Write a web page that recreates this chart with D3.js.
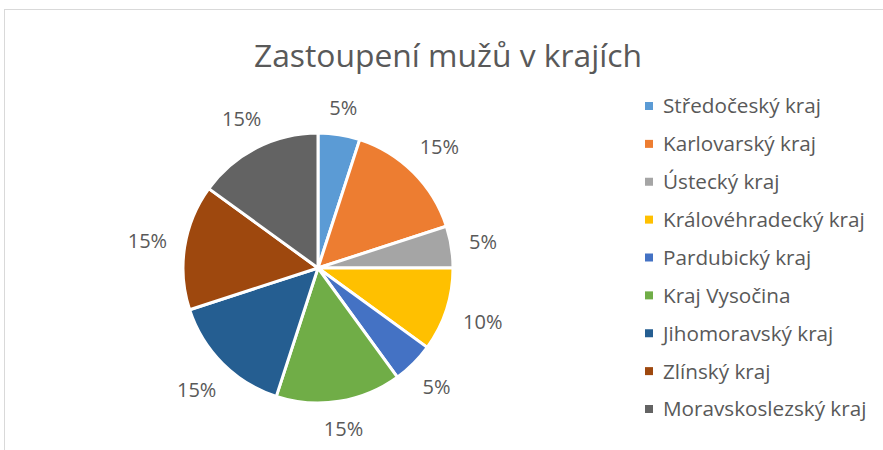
<!DOCTYPE html>
<html lang="cs">
<head>
  <meta charset="UTF-8">
  <title>Zastoupení mužů v krajích</title>
  <script src="https://d3js.org/d3.v7.min.js"></script>
  <style>
    body {
      margin: 0;
      background: #fff;
      font-family: 'Open Sans', sans-serif;
    }
    svg { display: block; }
    .title { font-size: 31.8px; fill: #595959; }
    .legend-text { font-size: 20.7px; fill: #595959; }
    .pct { font-size: 20px; fill: #595959; }
  </style>
</head>
<body>
  <svg width="883" height="450"></svg>
  <script>
    const regions = ["Středočeský kraj", "Karlovarský kraj", "Ústecký kraj", "Královéhradecký kraj",
                     "Pardubický kraj", "Kraj Vysočina", "Jihomoravský kraj", "Zlínský kraj",
                     "Moravskoslezský kraj"];
    const shares = [5, 15, 5, 10, 5, 15, 15, 15, 15];
    const colors = ["#5B9BD5", "#ED7D31", "#A5A5A5", "#FFC000", "#4472C4",
                    "#70AD47", "#255E91", "#9E480E", "#636363"];

    const svg = d3.select("svg");

    // chart area frame (only top and left edges visible in the crop)
    svg.append("rect")
      .attr("x", 4.5).attr("y", 9.5)
      .attr("width", 900).attr("height", 460)
      .attr("fill", "#fff")
      .attr("stroke", "#d9d9d9");

    svg.append("text")
      .attr("class", "title")
      .attr("x", 448).attr("y", 67)
      .attr("text-anchor", "middle")
      .text("Zastoupení mužů v krajích");

    const cx = 318, cy = 268, radius = 135;
    const g = svg.append("g").attr("transform", `translate(${cx},${cy})`);

    const total = d3.sum(shares);
    const pie = d3.pie().sort(null).value(d => d.value);
    const arc = d3.arc().innerRadius(0).outerRadius(radius);
    const color = d3.scaleOrdinal().domain(regions).range(colors);

    const data = regions.map((r, i) => ({name: r, value: shares[i]}));
    const arcs = pie(data);

    g.selectAll("path.slice")
      .data(arcs)
      .enter().append("path")
        .attr("class", "slice")
        .attr("d", arc)
        .attr("fill", d => color(d.data.name))
        .attr("stroke", "#fff")
        .attr("stroke-width", 3)
        .attr("stroke-linejoin", "round");

    // outside-end labels: box sits just beyond the rim along the mid angle
    const fmt = d3.format(".0%");
    g.selectAll("text.pct")
      .data(arcs)
      .enter().append("text")
        .attr("class", "pct")
        .attr("text-anchor", "middle")
        .attr("dominant-baseline", "central")
        .text(d => fmt(d.data.value / total))
        .each(function(d) {
          const a = (d.startAngle + d.endAngle) / 2;
          const w = this.getComputedTextLength();
          const h = 16;
          const s = Math.sin(a), c = Math.cos(a);
          const dist = radius + 17 + Math.abs(s) * w / 2 + Math.abs(c) * h / 2;
          d3.select(this)
            .attr("x", s * dist)
            .attr("y", -c * dist);
        });

    // legend
    const legendY = d3.scalePoint().domain(regions).range([106, 409]);
    const legend = svg.append("g");
    const item = legend.selectAll("g")
      .data(regions)
      .enter().append("g")
        .attr("transform", d => `translate(645,${legendY(d)})`);

    item.append("rect")
      .attr("x", 0).attr("y", -4)
      .attr("width", 8).attr("height", 8)
      .attr("fill", d => color(d));

    item.append("text")
      .attr("class", "legend-text")
      .attr("x", 18)
      .attr("dy", "0.36em")
      .text(d => d);
  </script>
</body>
</html>
